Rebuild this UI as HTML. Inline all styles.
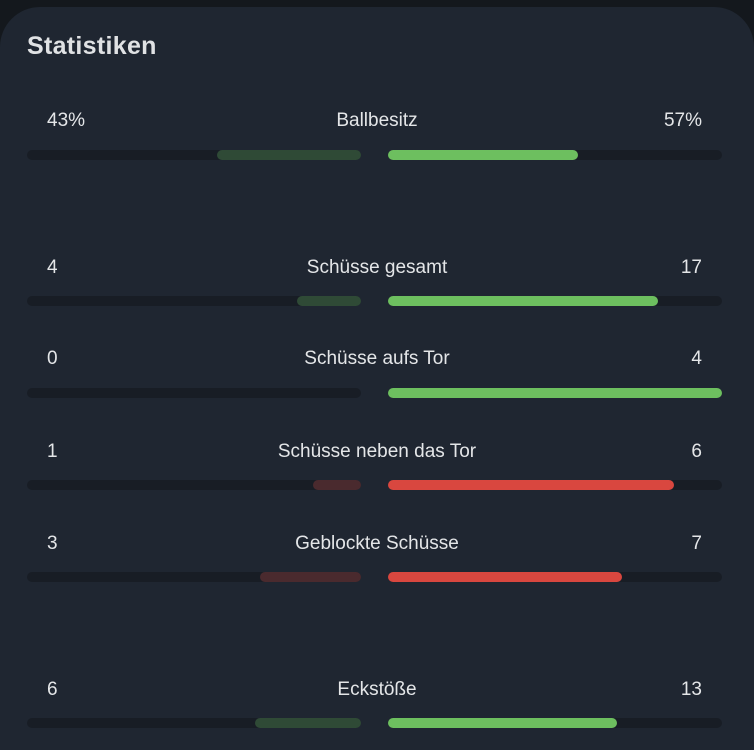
<!DOCTYPE html>
<html><head><meta charset="utf-8"><style>
html,body{margin:0;width:754px;height:750px;overflow:hidden}
body{background:#14181d;font-family:"Liberation Sans",sans-serif;color:#e4e6e8;position:relative}
.card{position:absolute;left:0;top:7px;width:754px;height:743px;background:#1f2631;border-radius:40px 40px 0 0}
h1{position:absolute;left:27px;top:32px;margin:0;font-size:25px;font-weight:bold;color:#e0e2e4;letter-spacing:0.3px}
.t{position:absolute;font-size:19px;transform:translateY(-50%)}
.l{left:47px}.r{right:52px}.c{left:0;width:754px;text-align:center}
.tr{position:absolute;height:10px;border-radius:5px;background:#181d25}
.f{position:absolute;height:10px;border-radius:5px}
.g{background:#6dbf5f}.dg{background:#2f4a36}.rd{background:#d9473f}.dr{background:#4a2a2e}
</style></head><body>
<div class="card"></div>
<h1>Statistiken</h1>

<div class="t l" style="top:121px">43%</div><div class="t c" style="top:121px">Ballbesitz</div><div class="t r" style="top:121px">57%</div>
<div class="tr" style="left:27px;width:334px;top:150px"></div><div class="tr" style="left:388px;width:334px;top:150px"></div>
<div class="f dg" style="left:217px;width:144px;top:150px"></div><div class="f g" style="left:388px;width:190px;top:150px"></div>

<div class="t l" style="top:268px">4</div><div class="t c" style="top:268px">Schüsse gesamt</div><div class="t r" style="top:268px">17</div>
<div class="tr" style="left:27px;width:334px;top:296px"></div><div class="tr" style="left:388px;width:334px;top:296px"></div>
<div class="f dg" style="left:297px;width:64px;top:296px"></div><div class="f g" style="left:388px;width:270px;top:296px"></div>

<div class="t l" style="top:359px">0</div><div class="t c" style="top:359px">Schüsse aufs Tor</div><div class="t r" style="top:359px">4</div>
<div class="tr" style="left:27px;width:334px;top:388px"></div><div class="tr" style="left:388px;width:334px;top:388px"></div>
<div class="f g" style="left:388px;width:334px;top:388px"></div>

<div class="t l" style="top:452px">1</div><div class="t c" style="top:452px">Schüsse neben das Tor</div><div class="t r" style="top:452px">6</div>
<div class="tr" style="left:27px;width:334px;top:480px"></div><div class="tr" style="left:388px;width:334px;top:480px"></div>
<div class="f dr" style="left:313px;width:48px;top:480px"></div><div class="f rd" style="left:388px;width:286px;top:480px"></div>

<div class="t l" style="top:544px">3</div><div class="t c" style="top:544px">Geblockte Schüsse</div><div class="t r" style="top:544px">7</div>
<div class="tr" style="left:27px;width:334px;top:572px"></div><div class="tr" style="left:388px;width:334px;top:572px"></div>
<div class="f dr" style="left:260px;width:101px;top:572px"></div><div class="f rd" style="left:388px;width:234px;top:572px"></div>

<div class="t l" style="top:690px">6</div><div class="t c" style="top:690px">Eckstöße</div><div class="t r" style="top:690px">13</div>
<div class="tr" style="left:27px;width:334px;top:718px"></div><div class="tr" style="left:388px;width:334px;top:718px"></div>
<div class="f dg" style="left:255px;width:106px;top:718px"></div><div class="f g" style="left:388px;width:229px;top:718px"></div>
</body></html>
